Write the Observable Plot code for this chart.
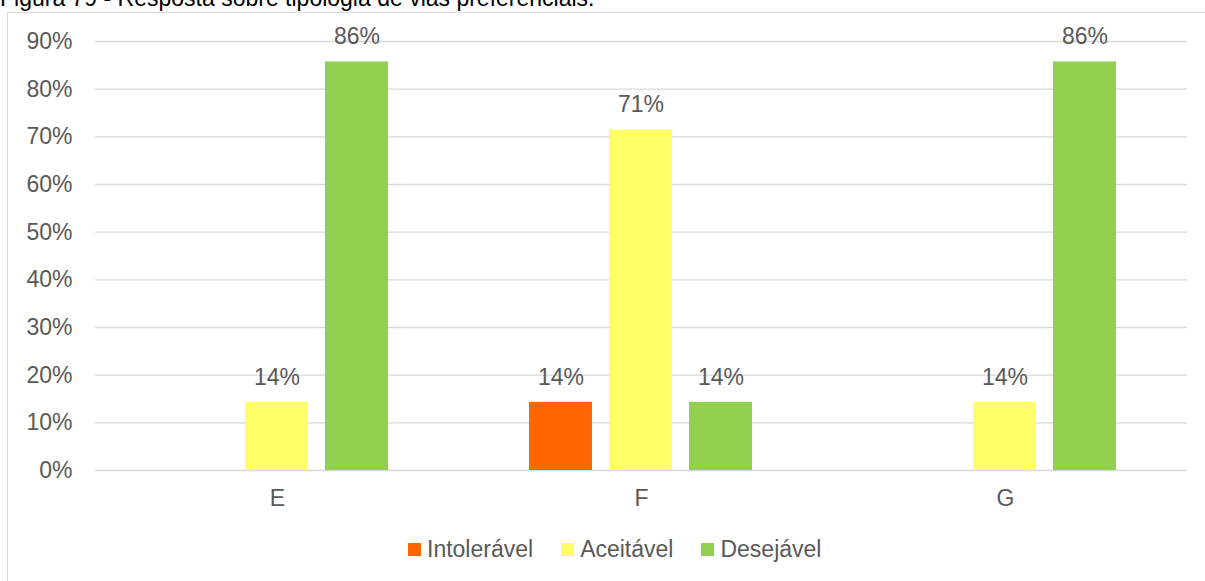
<!DOCTYPE html>
<html>
<head>
<meta charset="utf-8">
<script src="https://cdn.jsdelivr.net/npm/d3@7"></script>
<script src="https://cdn.jsdelivr.net/npm/@observablehq/plot@0.6"></script>
<style>
  html, body { margin: 0; padding: 0; background: #fff; overflow: hidden; }
  body { width: 1205px; height: 581px; position: relative; font-family: "Liberation Sans", Arial, sans-serif; }
  #title { position: absolute; left: 0; top: -13px; font-size: 23px; line-height: 23px; color: #000; white-space: nowrap; }
  #frame { position: absolute; left: 7px; top: 12px; width: 1210px; height: 580px; border: 1px solid #d9d9d9; box-sizing: border-box; }
  #chart { position: absolute; left: 0; top: 0; }
  #legend { position: absolute; top: 538px; left: 408px; display: flex; gap: 28px; font-size: 23px; line-height: 23px; color: #595959; white-space: nowrap; }
  .item { display: flex; align-items: center; }
  .sw { width: 13px; height: 13px; margin-right: 6px; }
</style>
</head>
<body>
<div id="title">Figura 79 - Resposta sobre tipologia de vias preferenciais.</div>
<div id="frame"></div>
<div id="chart"></div>
<div id="legend"></div>
<script>
const categories = ["E", "F", "G"];
const seriesNames = ["Intolerável", "Aceitável", "Desejável"];
const seriesColors = ["#FF6600", "#FFFF66", "#92D050"];
const intoleravel = [0, 0.1429, 0];
const aceitavel = [0.1429, 0.7143, 0.1429];
const desejavel = [0.8571, 0.1429, 0.8571];
const yTicks = [0, 0.1, 0.2, 0.3, 0.4, 0.5, 0.6, 0.7, 0.8, 0.9];

const seriesValues = [intoleravel, aceitavel, desejavel];
const data = [];
categories.forEach((c, i) => {
  seriesNames.forEach((s, j) => {
    data.push({cat: c, series: s, value: seriesValues[j][i]});
  });
});

const chart = Plot.plot({
  width: 1205,
  height: 520,
  marginLeft: 94,
  marginRight: 17,
  marginTop: 41,
  marginBottom: 50,
  style: {fontFamily: "Liberation Sans, Arial, sans-serif", fontSize: "23px", color: "#595959", background: "transparent", overflow: "visible"},
  fx: {domain: categories, padding: 0, label: null, axis: "bottom", tickSize: 0, tickPadding: 19},
  x: {domain: seriesNames, paddingInner: 0.21, paddingOuter: 0.855, axis: null},
  y: {domain: [0, 0.9], axis: null},
  color: {domain: seriesNames, range: seriesColors},
  marks: [
    Plot.ruleY(yTicks, {stroke: "#d9d9d9", strokeWidth: 1.3}),
    Plot.axisY({ticks: yTicks, tickFormat: d => Math.round(d * 100) + "%", tickSize: 0, tickPadding: 23, fontSize: 23, fill: "#595959", label: null}),
    Plot.barY(data, {fx: "cat", x: "series", y: "value", fill: "series"}),
    Plot.text(data.filter(d => d.value > 0), {fx: "cat", x: "series", y: "value", text: d => Math.round(d.value * 100) + "%", dy: -25, fill: "#595959", fontSize: 23})
  ]
});
document.getElementById("chart").appendChild(chart);

const legend = document.getElementById("legend");
seriesNames.forEach((s, i) => {
  const item = document.createElement("div");
  item.className = "item";
  const sw = document.createElement("div");
  sw.className = "sw";
  sw.style.background = seriesColors[i];
  const t = document.createElement("span");
  t.textContent = s;
  item.appendChild(sw);
  item.appendChild(t);
  legend.appendChild(item);
});
</script>
</body>
</html>
